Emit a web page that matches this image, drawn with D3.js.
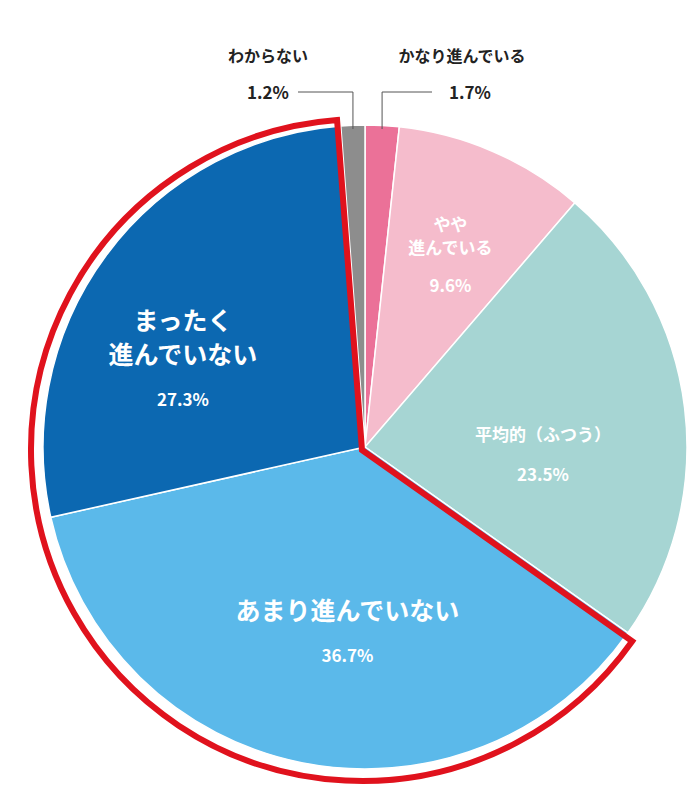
<!DOCTYPE html>
<html><head><meta charset="utf-8">
<script src="https://cdn.jsdelivr.net/npm/d3@7"></script>
<style>body{margin:0;background:#fff}</style>
</head><body><div id="chart"></div>
<script>
// slices clockwise from 12 o'clock
const names = ["かなり進んでいる", "やや進んでいる", "平均的（ふつう）", "あまり進んでいない", "まったく進んでいない", "わからない"];
const values = [1.7, 9.6, 23.5, 36.7, 27.3, 1.2];
const colors = ["#eb7198", "#f5bccc", "#a6d5d3", "#5bb9ea", "#0c68b1", "#8d8d8d"];

const W = 690, H = 790, cx = 365, cy = 447, R = 322;
const svg = d3.select("#chart").append("svg").attr("width", W).attr("height", H)
  .style("font-family", "'Noto Sans CJK JP', sans-serif");
const g = svg.append("g").attr("transform", `translate(${cx},${cy})`);

const pie = d3.pie().sort(null).value(d => d)(values);
const arc = d3.arc().innerRadius(0).outerRadius(R);

g.selectAll("path.slice").data(pie).enter().append("path")
  .attr("d", arc).attr("fill", (d, i) => colors[i])
  .attr("stroke", "#fff").attr("stroke-width", 1.5);

// red outline around the two "not progressing" slices
g.append("path")
  .attr("d", d3.arc().innerRadius(0).outerRadius(R + 9)
    .startAngle(pie[3].startAngle).endAngle(pie[4].endAngle)())
  .attr("transform", "translate(-3,3)")
  .attr("fill", "none").attr("stroke", "#e0121d").attr("stroke-width", 6)
  .attr("stroke-linejoin", "miter");

// labels inside
const inner = [
  null,
  {r: 215, lines: ["やや", "進んでいる"], size: 17, gap: 4},
  {r: 178, lines: ["平均的（ふつう）"], size: 17, da: 0.13, gap: 6},
  {r: 180, lines: ["あまり進んでいない"], size: 25, da: -0.1, gap: 0},
  {r: 205, lines: ["まったく", "進んでいない"], size: 25, da: -0.16, gap: 0}
];
pie.forEach((d, i) => {
  const L = inner[i]; if (!L) return;
  const a = (d.startAngle + d.endAngle) / 2 + (L.da || 0);
  const x = Math.sin(a) * L.r, y = -Math.cos(a) * L.r;
  const lh = L.size * 1.35;
  const n = L.lines.length;
  const y0 = y - (n * lh + 18) / 2 + L.size * 0.8;
  L.lines.forEach((t, k) => g.append("text").attr("x", x).attr("y", y0 + k * lh)
    .attr("text-anchor", "middle").attr("fill", "#fff").attr("font-weight", "bold")
    .attr("font-size", L.size).text(t));
  g.append("text").attr("x", x).attr("y", y0 + n * lh - L.size * 0.35 + 17 + L.gap)
    .attr("text-anchor", "middle").attr("fill", "#fff").attr("font-size", 17)
    .attr("font-weight", "bold").text(values[i] + "%");
});

// outside labels with leader lines
function outside(i, lx, side) {
  const d = pie[i];
  const a = (d.startAngle + d.endAngle) / 2;
  const px = cx + Math.sin(a) * (R - 2);
  svg.append("text").attr("x", lx).attr("y", 62).attr("text-anchor", "middle")
    .attr("font-size", 16).attr("font-weight", "bold").attr("fill", "#222").text(names[i]);
  svg.append("text").attr("x", lx + (side < 0 ? 0 : 8)).attr("y", 99).attr("text-anchor", "middle")
    .attr("font-size", 17).attr("font-weight", "bold").attr("fill", "#222").text(values[i] + "%");
  const ex = side < 0 ? lx + 30 : lx - 30;
  svg.append("polyline").attr("points", `${ex},92 ${px},92 ${px},${cy - R + 4}`)
    .attr("fill", "none").attr("stroke", "#555").attr("stroke-width", 1);
}
outside(5, 268, -1);
outside(0, 462, 1);
</script></body></html>
